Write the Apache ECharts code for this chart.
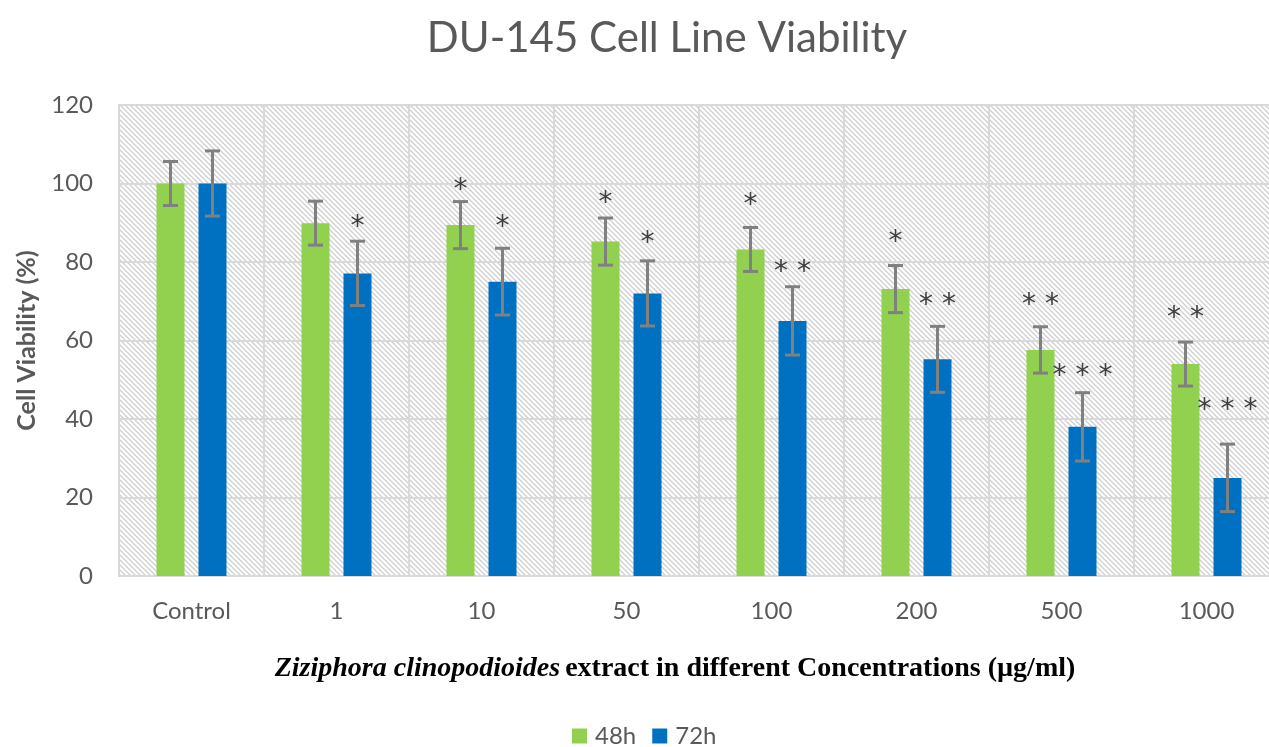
<!DOCTYPE html>
<html>
<head>
<meta charset="utf-8">
<script src="https://cdn.jsdelivr.net/npm/echarts@6/dist/echarts.min.js"></script>
<style>html,body{margin:0;padding:0;background:#fff;overflow:hidden;width:1269px;height:747px}#chart{width:1300px;height:747px}</style>
</head>
<body>
<div id="chart"></div>
<script>
// ---- data ----
const categories = ['Control', '1', '10', '50', '100', '200', '500', '1000'];
const seriesNames = ['48h', '72h'];
const values48 = [100, 89.9, 89.4, 85.2, 83.2, 73.1, 57.6, 54.0];
const values72 = [100, 77.1, 75.0, 72.0, 65.0, 55.2, 38.0, 25.0];
const err48 = [5.6, 5.6, 6.0, 6.0, 5.6, 6.0, 5.9, 5.6];
const err72 = [8.3, 8.2, 8.5, 8.3, 8.7, 8.4, 8.7, 8.6];
const stars48 = ['', '', '*', '*', '*', '*', '* *', '* *'];
const stars72 = ['', '*', '*', '*', '* *', '* *', '* * *', '* * *'];
const starPos48 = [0, 0, 99.6, 96.3, 95.8, 86.4, 70.3, 67.0];
const starPos72 = [0, 90.3, 90.3, 86.1, 78.7, 70.3, 52.3, 43.6];
const yTicks = [0, 20, 40, 60, 80, 100, 120];

// ---- style ----
const GREEN = '#92D050', BLUE = '#0070C0', ERR = '#808080', GRIDC = '#d9d9d9', TXT = '#595959';
const BAR_W = 28, BAR_GAP = 14;
const OFF = (BAR_W + BAR_GAP) / 2;
const SANS = 'Lato, "Open Sans", sans-serif';

function hatch() {
  const s = 5, c = document.createElement('canvas');
  c.width = s; c.height = s;
  const g = c.getContext('2d');
  g.fillStyle = '#ffffff'; g.fillRect(0, 0, s, s);
  g.strokeStyle = '#cfcfcf'; g.lineWidth = 1.3;
  g.beginPath();
  g.moveTo(-1, -1); g.lineTo(s + 1, s + 1);
  g.moveTo(-1, s - 1); g.lineTo(1, s + 1);
  g.moveTo(s - 1, -1); g.lineTo(s + 1, 1);
  g.stroke();
  return { image: c, repeat: 'repeat' };
}

const errData = [];
values48.forEach((v, i) => errData.push([i, v, err48[i], -1]));
values72.forEach((v, i) => errData.push([i, v, err72[i], 1]));
const starData = [];
stars48.forEach((s, i) => { if (s) starData.push([i, starPos48[i], -1, s]); });
stars72.forEach((s, i) => { if (s) starData.push([i, starPos72[i], 1, s]); });

const chart = echarts.init(document.getElementById('chart'));
chart.setOption({
  animation: false,
  title: [{
    text: 'DU-145 Cell Line Viability',
    left: 662, top: 12, textAlign: 'center',
    textStyle: { fontFamily: SANS, fontSize: 42, fontWeight: 'normal', color: TXT }
  }, {
    text: '{i|Ziziphora clinopodioides} {b|extract in different Concentrations (µg/ml)}',
    left: 670, top: 650, textAlign: 'center',
    textStyle: {
      rich: {
        i: { fontFamily: '"Liberation Serif", serif', fontStyle: 'italic', fontWeight: 'bold', fontSize: 28, color: '#000' },
        b: { fontFamily: '"Liberation Serif", serif', fontWeight: 'bold', fontSize: 28, color: '#000' }
      }
    }
  }],
  legend: {
    data: seriesNames, left: 567, top: 719, itemWidth: 15, itemHeight: 15, itemGap: 16,
    icon: 'rect',
    textStyle: { fontFamily: SANS, fontSize: 24, color: TXT, padding: [0, 0, 0, 3] }
  },
  grid: {
    left: 119, top: 105, width: 1160, height: 471,
    show: true, backgroundColor: hatch(), borderColor: GRIDC, borderWidth: 2
  },
  xAxis: {
    type: 'category', data: categories,
    axisLine: { show: true, lineStyle: { color: GRIDC, width: 2 } },
    axisTick: { show: false },
    splitLine: { show: true, interval: 0, lineStyle: { color: GRIDC, width: 2 } },
    axisLabel: { fontFamily: SANS, fontSize: 24, color: TXT, margin: 23 }
  },
  yAxis: {
    type: 'value', min: 0, max: 120, interval: 20,
    name: 'Cell Viability (%)', nameLocation: 'middle', nameGap: 80,
    nameTextStyle: { fontFamily: SANS, fontSize: 25, fontWeight: 'bold', color: TXT },
    axisLine: { show: false }, axisTick: { show: false },
    splitLine: { lineStyle: { color: GRIDC, width: 2 } },
    axisLabel: { fontFamily: SANS, fontSize: 24, color: TXT, margin: 26,
      formatter: v => yTicks.includes(v) ? String(v) : '' }
  },
  series: [
    { name: '48h', type: 'bar', data: values48, barWidth: BAR_W, barGap: (BAR_GAP / BAR_W * 100) + '%', itemStyle: { color: GREEN } },
    { name: '72h', type: 'bar', data: values72, barWidth: BAR_W, itemStyle: { color: BLUE } },
    {
      type: 'custom', z: 5, data: errData, silent: true,
      renderItem: (params, api) => {
        const i = api.value(0), v = api.value(1), e = api.value(2), side = api.value(3);
        const t = api.coord([i, v + e]), b = api.coord([i, v - e]);
        const x = t[0] + side * OFF, cw = 7.5;
        const st = { stroke: ERR, lineWidth: 3 };
        return { type: 'group', children: [
          { type: 'line', shape: { x1: x, y1: t[1], x2: x, y2: b[1] }, style: st },
          { type: 'line', shape: { x1: x - cw, y1: t[1], x2: x + cw, y2: t[1] }, style: st },
          { type: 'line', shape: { x1: x - cw, y1: b[1], x2: x + cw, y2: b[1] }, style: st }
        ]};
      }
    },
    {
      type: 'custom', z: 6, data: starData, silent: true,
      renderItem: (params, api) => {
        const d = starData[params.dataIndex];
        const p = api.coord([d[0], d[1]]);
        return { type: 'text', x: p[0] + d[2] * OFF, y: p[1] + 6,
          style: { text: d[3], fontFamily: '"DejaVu Sans", sans-serif', fontSize: 28, fill: '#404040',
            align: 'center', verticalAlign: 'middle' } };
      }
    }
  ]
});
</script>
</body>
</html>
